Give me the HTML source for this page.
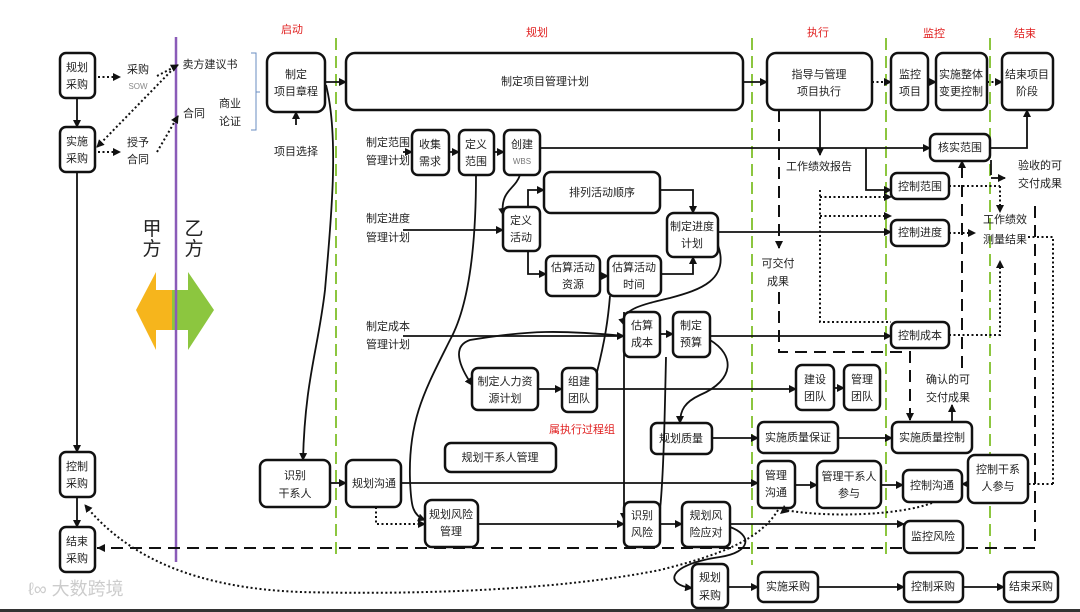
<!DOCTYPE html>
<html><head><meta charset="utf-8"><style>
html,body{margin:0;padding:0;background:#fff}
svg{display:block}
text{font-family:"Liberation Sans","Noto Sans CJK SC",sans-serif;font-size:11px;fill:#222;text-anchor:middle;dominant-baseline:middle}
.b{fill:#fff;stroke:#111;stroke-width:2.5}
.l{fill:none;stroke:#111;stroke-width:1.8}
.d{fill:none;stroke:#111;stroke-width:2;stroke-dasharray:2 2.5}
.dd{fill:none;stroke:#111;stroke-width:2;stroke-dasharray:12 7}
.g{stroke:#8cc63f;stroke-width:2;stroke-dasharray:12 6}
.r{fill:#e02020}
</style></head><body>
<svg width="1080" height="612" viewBox="0 0 1080 612" xmlns="http://www.w3.org/2000/svg">
<defs><marker id="a" markerWidth="8" markerHeight="8" refX="7" refY="4" orient="auto" markerUnits="userSpaceOnUse"><path d="M0,0L8,4L0,8z" fill="#111"/></marker></defs>
<rect width="1080" height="612" fill="#fff"/>
<rect x="0" y="609" width="1080" height="3" fill="#333"/>
<line class="g" x1="336" y1="38" x2="336" y2="560"/>
<line class="g" x1="752" y1="38" x2="752" y2="565"/>
<line class="g" x1="886" y1="38" x2="886" y2="560"/>
<line class="g" x1="990" y1="38" x2="990" y2="560"/>
<text class="r" x="292" y="30">启动</text><text class="r" x="537" y="33">规划</text><text class="r" x="818" y="33">执行</text><text class="r" x="934" y="34">监控</text><text class="r" x="1025" y="34">结束</text>
<polygon points="172,290 156,290 156,272 136,310 156,350 156,330 172,330" fill="#f6b51c"/>
<polygon points="172,290 188,290 188,272 214,310 188,350 188,330 172,330" fill="#8cc63f"/>
<line x1="176" y1="37" x2="176" y2="562" stroke="#8a5bb8" stroke-width="2.5"/>
<text x="152" y="230" style="font-size:19px">甲</text><text x="152" y="250" style="font-size:19px">方</text>
<text x="194" y="230" style="font-size:19px">乙</text><text x="194" y="250" style="font-size:19px">方</text>
<rect class="b" x="60" y="53" width="35" height="45" rx="6"/><text x="77" y="68">规划</text><text x="77" y="85">采购</text>
<rect class="b" x="60" y="127" width="35" height="45" rx="6"/><text x="77" y="142">实施</text><text x="77" y="159">采购</text>
<rect class="b" x="60" y="452" width="35" height="45" rx="6"/><text x="77" y="467">控制</text><text x="77" y="484">采购</text>
<rect class="b" x="60" y="527" width="35" height="45" rx="6"/><text x="77" y="542">结束</text><text x="77" y="559">采购</text>
<path class="l" marker-end="url(#a)" d="M77,98V127"/><path class="l" marker-end="url(#a)" d="M77,172V452"/><path class="l" marker-end="url(#a)" d="M77,497V527"/>
<text x="138" y="70">采购</text><text x="138" y="87" style="font-size:8px;fill:#888">SOW</text>
<text x="138" y="143">授予</text><text x="138" y="160">合同</text>
<path class="d" marker-end="url(#a)" d="M98,77H120"/><path class="d" marker-end="url(#a)" d="M98,152H120"/>
<path class="d" marker-end="url(#a)" d="M157,76L178,65"/><path class="d" marker-end="url(#a)" d="M157,152L178,116"/>
<path class="d" marker-end="url(#a)" d="M174,68L97,147"/>
<text x="210" y="65">卖方建议书</text><text x="194" y="114">合同</text>
<text x="230" y="104">商业</text><text x="230" y="122">论证</text>
<path d="M251,53h5v77h-5M256,92h4" fill="none" stroke="#6a8cc0" stroke-width="1"/>
<rect class="b" x="267" y="53" width="58" height="59" rx="9"/><text x="296" y="75">制定</text><text x="296" y="92">项目章程</text>
<path class="l" marker-end="url(#a)" d="M296,125V112"/><text x="296" y="152">项目选择</text>
<path class="l" marker-end="url(#a)" d="M325,82H346"/>
<path class="l" marker-end="url(#a)" d="M326,85C340,140 330,230 325,290C318,350 305,380 303,460"/>
<rect class="b" x="260" y="460" width="70" height="47" rx="7"/><text x="295" y="476">识别</text><text x="295" y="494">干系人</text>
<rect class="b" x="346" y="53" width="397" height="57" rx="9"/><text x="545" y="82">制定项目管理计划</text>
<path class="l" marker-end="url(#a)" d="M743,82H767"/>
<text x="388" y="143">制定范围</text><text x="388" y="161">管理计划</text>
<text x="388" y="219">制定进度</text><text x="388" y="238">管理计划</text>
<text x="388" y="327">制定成本</text><text x="388" y="345">管理计划</text>
<rect class="b" x="412" y="130" width="37" height="45" rx="6"/><text x="430" y="145">收集</text><text x="430" y="162">需求</text>
<rect class="b" x="459" y="130" width="35" height="45" rx="6"/><text x="476" y="145">定义</text><text x="476" y="162">范围</text>
<rect class="b" x="504" y="130" width="36" height="45" rx="6"/><text x="522" y="145">创建</text><text x="522" y="162" style="font-size:8px;fill:#777">WBS</text>
<path class="l" marker-end="url(#a)" d="M403,152H412"/><path class="l" marker-end="url(#a)" d="M449,152H459"/><path class="l" marker-end="url(#a)" d="M494,152H504"/>
<path class="l" marker-end="url(#a)" d="M540,148H930"/>
<rect class="b" x="544" y="172" width="116" height="41" rx="7"/><text x="602" y="193">排列活动顺序</text>
<rect class="b" x="503" y="207" width="37" height="44" rx="6"/><text x="521" y="221">定义</text><text x="521" y="238">活动</text>
<path class="l" marker-end="url(#a)" d="M520,175C515,190 500,190 503,215"/>
<path class="l" marker-end="url(#a)" d="M403,230H503"/>
<path class="l" marker-end="url(#a)" d="M528,207V190H544"/>
<path class="l" marker-end="url(#a)" d="M528,251V274H546"/>
<rect class="b" x="667" y="213" width="51" height="44" rx="7"/><text x="692" y="227">制定进度</text><text x="692" y="244">计划</text>
<path class="l" marker-end="url(#a)" d="M660,190H693V213"/>
<rect class="b" x="546" y="256" width="54" height="40" rx="6"/><text x="573" y="268">估算活动</text><text x="573" y="285">资源</text>
<rect class="b" x="608" y="256" width="53" height="40" rx="6"/><text x="634" y="268">估算活动</text><text x="634" y="285">时间</text>
<path class="l" marker-end="url(#a)" d="M600,276H608"/><path class="l" marker-end="url(#a)" d="M661,274H693V257"/>
<path class="l" marker-end="url(#a)" d="M718,232H891"/>
<path class="l" marker-end="url(#a)" d="M476,175C476,230 472,300 450,340C425,390 408,420 410,480C411,505 412,515 425,520"/>
<path class="l" marker-end="url(#a)" d="M718,245C730,280 700,290 670,298C640,305 620,310 624,325"/>
<rect class="b" x="624" y="312" width="36" height="45" rx="6"/><text x="642" y="326">估算</text><text x="642" y="343">成本</text>
<rect class="b" x="673" y="312" width="37" height="45" rx="6"/><text x="691" y="326">制定</text><text x="691" y="343">预算</text>
<path class="l" marker-end="url(#a)" d="M403,336H624"/><path class="l" marker-end="url(#a)" d="M660,334H673"/>
<path class="l" marker-end="url(#a)" d="M710,336H891"/>
<path class="l" marker-end="url(#a)" d="M625,336C560,330 530,330 470,340C455,345 455,360 472,385"/>
<rect class="b" x="472" y="368" width="66" height="42" rx="6"/><text x="505" y="382">制定人力资</text><text x="505" y="399">源计划</text>
<rect class="b" x="562" y="368" width="35" height="44" rx="6"/><text x="579" y="382">组建</text><text x="579" y="399">团队</text>
<path class="l" marker-end="url(#a)" d="M538,389H562"/>
<path class="l" marker-end="url(#a)" d="M597,389H796"/>
<path class="l" d="M597,372C605,340 608,320 610,296"/>
<text class="r" x="582" y="430">属执行过程组</text>
<path class="l" marker-end="url(#a)" d="M710,340C735,355 735,380 700,395C685,402 680,410 680,423"/>
<rect class="b" x="651" y="423" width="61" height="31" rx="6"/><text x="681" y="439">规划质量</text>
<path class="l" marker-end="url(#a)" d="M712,438H758"/>
<rect class="b" x="445" y="443" width="111" height="29" rx="6"/><text x="500" y="458">规划干系人管理</text>
<path class="l" marker-end="url(#a)" d="M330,483H346"/>
<rect class="b" x="346" y="460" width="55" height="47" rx="7"/><text x="374" y="484">规划沟通</text>
<path class="l" marker-end="url(#a)" d="M401,483H758"/>
<path class="d" marker-end="url(#a)" d="M376,507V524H425"/>
<rect class="b" x="425" y="500" width="53" height="47" rx="7"/><text x="451" y="515">规划风险</text><text x="451" y="532">管理</text>
<path class="l" marker-end="url(#a)" d="M478,524H624"/>
<path class="l" marker-end="url(#a)" d="M624,312V520"/>
<path class="l" d="M666,357C665,400 664,470 660,510"/>
<rect class="b" x="624" y="502" width="36" height="45" rx="6"/><text x="642" y="516">识别</text><text x="642" y="533">风险</text>
<rect class="b" x="682" y="502" width="48" height="45" rx="6"/><text x="706" y="516">规划风</text><text x="706" y="533">险应对</text>
<path class="l" marker-end="url(#a)" d="M660,524H682"/>
<path class="l" marker-end="url(#a)" d="M730,524H904"/>
<path class="l" marker-end="url(#a)" d="M730,527C752,535 752,552 720,557C665,565 665,585 692,588"/>
<rect class="b" x="692" y="564" width="36" height="44" rx="6"/><text x="710" y="578">规划</text><text x="710" y="596">采购</text>
<path class="l" marker-end="url(#a)" d="M728,587H758"/>
<rect class="b" x="767" y="53" width="105" height="57" rx="9"/><text x="819" y="75">指导与管理</text><text x="819" y="92">项目执行</text>
<path class="d" marker-end="url(#a)" d="M872,82H891"/>
<path class="l" marker-end="url(#a)" d="M820,110V155"/>
<text x="819" y="167">工作绩效报告</text>
<path class="dd" marker-end="url(#a)" d="M779,110V248"/>
<text x="778" y="264">可交付</text><text x="778" y="282">成果</text>
<path class="dd" d="M779,292V352H910V421"/><path d="M906,413L910,421L914,413z" fill="#111"/>
<path class="d" d="M820,190V322H891"/><path class="d" marker-end="url(#a)" d="M820,197H891"/><path class="d" marker-end="url(#a)" d="M820,216H891"/>
<rect class="b" x="796" y="365" width="38" height="45" rx="6"/><text x="815" y="380">建设</text><text x="815" y="397">团队</text>
<rect class="b" x="844" y="365" width="36" height="45" rx="6"/><text x="862" y="380">管理</text><text x="862" y="397">团队</text>
<path class="l" marker-end="url(#a)" d="M834,388H844"/>
<rect class="b" x="758" y="422" width="80" height="31" rx="6"/><text x="798" y="438">实施质量保证</text>
<path class="l" marker-end="url(#a)" d="M838,438H892"/>
<rect class="b" x="758" y="461" width="37" height="47" rx="6"/><text x="776" y="476">管理</text><text x="776" y="493">沟通</text>
<path class="l" marker-end="url(#a)" d="M795,485H817"/>
<rect class="b" x="817" y="461" width="64" height="47" rx="7"/><text x="849" y="477">管理干系人</text><text x="849" y="494">参与</text>
<path class="l" marker-end="url(#a)" d="M881,485H903"/>
<rect class="b" x="758" y="572" width="60" height="30" rx="6"/><text x="788" y="587">实施采购</text>
<path class="l" marker-end="url(#a)" d="M818,587H904"/>
<rect class="b" x="891" y="53" width="37" height="57" rx="7"/><text x="910" y="75">监控</text><text x="910" y="92">项目</text>
<path class="l" marker-end="url(#a)" d="M928,82H936"/>
<rect class="b" x="936" y="53" width="51" height="57" rx="7"/><text x="961" y="75">实施整体</text><text x="961" y="92">变更控制</text>
<path class="d" marker-end="url(#a)" d="M987,82H1002"/>
<rect class="b" x="930" y="134" width="60" height="27" rx="6"/><text x="960" y="148">核实范围</text>
<path class="l" marker-end="url(#a)" d="M990,148H1027V110"/>
<path class="l" marker-end="url(#a)" d="M866,148V190H891"/>
<path class="l" d="M991,160V175"/><path class="l" marker-end="url(#a)" d="M991,178H1005"/>
<text x="1040" y="166">验收的可</text><text x="1040" y="184">交付成果</text>
<rect class="b" x="891" y="173" width="58" height="26" rx="6"/><text x="920" y="187">控制范围</text>
<rect class="b" x="891" y="220" width="58" height="26" rx="6"/><text x="920" y="233">控制进度</text>
<rect class="b" x="891" y="322" width="58" height="26" rx="6"/><text x="920" y="336">控制成本</text>
<path class="d" d="M949,186H1000"/><path class="d" marker-end="url(#a)" d="M1000,186V212"/>
<path class="d" marker-end="url(#a)" d="M949,233H975"/>
<path class="d" d="M949,335H1000V260"/><path d="M996,268L1000,260L1004,268z" fill="#111"/>
<text x="1005" y="220">工作绩效</text><text x="1005" y="240">测量结果</text>
<path class="d" d="M1028,237H1053V484"/><path class="d" marker-end="url(#a)" d="M1053,484H962"/>
<path class="dd" d="M962,368V168"/><path d="M958,168L962,160L966,168z" fill="#111"/>
<path class="dd" d="M1035,206V548H97"/><path d="M105,544L97,548L105,552z" fill="#111"/>
<text x="948" y="380">确认的可</text><text x="948" y="398">交付成果</text>
<path class="l" marker-end="url(#a)" d="M952,421V405"/>
<rect class="b" x="892" y="422" width="80" height="31" rx="6"/><text x="932" y="438">实施质量控制</text>
<rect class="b" x="903" y="470" width="59" height="32" rx="6"/><text x="932" y="486">控制沟通</text>
<rect class="b" x="968" y="455" width="60" height="48" rx="7"/><text x="998" y="470">控制干系</text><text x="998" y="487">人参与</text>
<rect class="b" x="904" y="521" width="59" height="32" rx="6"/><text x="933" y="537">监控风险</text>
<rect class="b" x="904" y="572" width="59" height="30" rx="6"/><text x="933" y="587">控制采购</text>
<path class="l" marker-end="url(#a)" d="M963,587H1004"/>
<rect class="b" x="1004" y="572" width="54" height="30" rx="6"/><text x="1031" y="587">结束采购</text>
<rect class="b" x="1002" y="53" width="51" height="57" rx="7"/><text x="1027" y="75">结束项目</text><text x="1027" y="92">阶段</text>
<path class="d" d="M932,503C900,515 830,518 785,510"/><path d="M780,514L784,505L789,512z" fill="#111"/>
<path class="d" marker-end="url(#a)" d="M778,510C760,540 720,555 660,570C560,590 420,595 300,592C200,588 130,560 85,505"/>
<text x="28" y="590" style="font-size:18px;fill:#ccc;text-anchor:start">ℓ∞ 大数跨境</text>
</svg>
</body></html>
